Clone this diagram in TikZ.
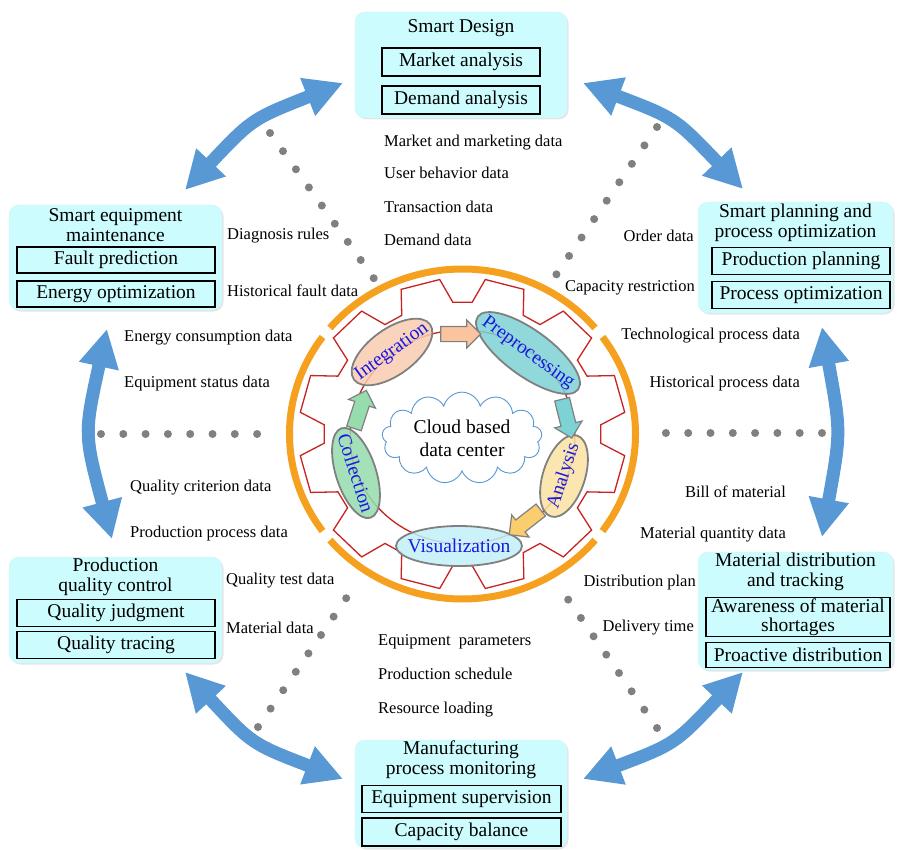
\documentclass[tikz,border=0pt]{standalone}
\usepackage{fontspec}
\setmainfont{Liberation Serif}
\usepackage{tikz}
\usetikzlibrary{arrows.meta, positioning, shapes.geometric, shapes.arrows, shapes.symbols, shadows}

\definecolor{modcyan}{RGB}{204,252,253}
\definecolor{gearred}{RGB}{200,35,35}
\definecolor{ringorange}{RGB}{245,160,30}
\definecolor{flowblue}{RGB}{88,152,212}
\definecolor{dotgray}{RGB}{128,128,128}
\definecolor{ovaltext}{RGB}{25,25,225}
\definecolor{integfill}{RGB}{248,204,176}
\definecolor{prepfill}{RGB}{125,210,212}
\definecolor{anafill}{RGB}{250,226,160}
\definecolor{visfill}{RGB}{195,240,248}
\definecolor{collfill}{RGB}{150,220,172}
\definecolor{anaarrow}{RGB}{250,205,110}

\newcommand{\ovl}[1]{\makebox[0pt]{#1}}

\tikzset{
  modbox/.style={fill=modcyan, draw=cyan!15, rounded corners=10pt,
    drop shadow={opacity=0.2, shadow xshift=1.5pt, shadow yshift=-1.5pt}},
  modtitle/.style={font=\fontsize{19.5}{20}\selectfont, align=center, inner sep=0pt},
  itembox/.style={draw=black, line width=1.4pt, fill=modcyan, inner sep=0pt,
    font=\fontsize{19.5}{19}\selectfont, align=center},
  datalabel/.style={font=\fontsize{16.5}{18}\selectfont, inner sep=0pt, text height=11pt, text depth=3pt},
  dotline/.style={dotgray, line width=8pt, line cap=round, dash pattern=on 0pt off 22.3pt},
  flowarrow/.style={flowblue, line width=13pt,
    {Triangle[length=38pt,width=38pt]}-{Triangle[length=38pt,width=38pt]}},
  ringline/.style={ringorange, line width=7pt},
  gearline/.style={gearred, line width=1.3pt, line join=miter},
  stepoval/.style={ellipse, draw=gray, line width=1.8pt, fill opacity=0.85, text opacity=1,
    text=ovaltext, font=\fontsize{19.5}{20}\selectfont, inner sep=0pt},
  steparrow/.style={single arrow, draw=gray, line width=1.2pt, minimum height=40pt,
    inner xsep=0pt, inner ysep=7pt, single arrow head extend=6.5pt}
}

\begin{document}
\begin{tikzpicture}[x=1pt, y=-1pt]
  \path[use as bounding box, fill=white] (0,0) rectangle (904,850);

  % Gear and ring
  \begin{scope}[shift={(462.5,434)}]
    \foreach \a/\b in {40/140, 144/216, 220/320, 324/396}
      \draw[ringline] (\a:173pt and 165pt) arc[start angle=\a, end angle=\b, x radius=173pt, y radius=165pt];
    \begin{scope}[xscale=1.05]
      \draw[gearline] (-4:132) \foreach \k in {0,...,11}{
        -- ({30*\k+4}:132) -- ({30*\k+8}:156) -- ({30*\k+22}:156) -- ({30*\k+26}:132)} -- cycle;
      \draw[gearred, line width=1.3pt] (0,3) circle[radius=107];
    \end{scope}
  \end{scope}

  % Cloud
  \node[cloud, cloud puffs=13, aspect=2, draw=flowblue, line width=0.9pt, fill=white,
    minimum width=160pt, minimum height=82pt, inner sep=0pt, align=center,
    font=\fontsize{19.5}{23}\selectfont] (cloud) at (462,438) {Cloud based\\data center};

  % Data processing cycle
  \node[stepoval, fill=integfill, minimum width=94pt, minimum height=46pt, rotate=36] (integ) at (392,352) {\ovl{Integration}};
  \node[stepoval, fill=prepfill, minimum width=124pt, minimum height=46pt, rotate=-36] (prep) at (528,353) {\ovl{Preprocessing}};
  \node[stepoval, fill=anafill, minimum width=85pt, minimum height=42pt, rotate=72] (ana) at (564,476) {\ovl{Analysis}};
  \node[stepoval, fill=visfill, minimum width=126pt, minimum height=40pt] (visu) at (459,546) {\ovl{Visualization}};
  \node[stepoval, fill=collfill, minimum width=94pt, minimum height=40pt, rotate=-72] (coll) at (356,473) {\ovl{Collection}};

  \node[steparrow, fill=integfill!90!orange] (a1) at (457,334) {};
  \node[steparrow, fill=prepfill, rotate=-76] (a2) at (566,415) {};
  \node[steparrow, fill=anaarrow, rotate=-142] (a3) at (528,520) {};
  \node[steparrow, fill=collfill, rotate=72] (a4) at (359,413) {};

  % Dotted links
  \coordinate (ulA) at (270,133);  \coordinate (ulB) at (375,280);
  \coordinate (urA) at (657,127);  \coordinate (urB) at (556,275);
  \coordinate (lA) at (101,434);   \coordinate (lB) at (262,434);
  \coordinate (rA) at (822,433);   \coordinate (rB) at (665,433);
  \coordinate (llA) at (258,727);  \coordinate (llB) at (358,581);
  \coordinate (lrA) at (657,728);  \coordinate (lrB) at (556,582);
  \foreach \p in {ul, ur, l, r, ll, lr}
    \draw[dotline] (\p A) -- (\p B);

  % Blue double arrows
  \coordinate (tlA) at (185,190);  \coordinate (tlB) at (343,83);
  \coordinate (trA) at (583,83);   \coordinate (trB) at (743,189);
  \coordinate (mlA) at (107,329);  \coordinate (mlB) at (112,539);
  \coordinate (mrA) at (822,327);  \coordinate (mrB) at (822,537);
  \coordinate (blA) at (185,672);  \coordinate (blB) at (343,779);
  \coordinate (brA) at (583,779);  \coordinate (brB) at (743,672);
  \draw[flowarrow] (tlA) .. controls (252,119) .. (tlB);
  \draw[flowarrow] (trA) .. controls (675,118) .. (trB);
  \draw[flowarrow] (mlA) .. controls (84,434) .. (mlB);
  \draw[flowarrow] (mrA) .. controls (841,432) .. (mrB);
  \draw[flowarrow] (blA) .. controls (252,744) .. (blB);
  \draw[flowarrow] (brA) .. controls (675,744) .. (brB);

  % Smart design
  \node[modbox, minimum width=212pt, minimum height=106pt] (design) at (461,65) {};
  \node[modtitle] (designT) at (461,28) {Smart Design};
  \node[itembox, minimum width=158pt, minimum height=28pt] (design1) at (461,62) {Market analysis};
  \node[itembox, minimum width=158pt, minimum height=28pt] (design2) at (461,100) {Demand analysis};

  % Smart equipment maintenance
  \node[modbox, minimum width=213pt, minimum height=105pt] (maint) at (115.5,257.5) {};
  \node[modtitle] (maintT) at (115.5,225) {Smart equipment\\maintenance};
  \node[itembox, minimum width=198pt, minimum height=26pt] (maint1) at (116,260) {Fault prediction};
  \node[itembox, minimum width=198pt, minimum height=26pt] (maint2) at (116,294) {Energy optimization};

  % Smart planning
  \node[modbox, minimum width=195pt, minimum height=111pt] (plan) at (795.5,257.5) {};
  \node[modtitle] (planT) at (795.5,223) {Smart planning and\\process optimization};
  \node[itembox, minimum width=178pt, minimum height=27pt] (plan1) at (801,261) {Production planning};
  \node[itembox, minimum width=178pt, minimum height=27pt] (plan2) at (801,295) {Process optimization};

  % Production quality control
  \node[modbox, minimum width=213pt, minimum height=106pt] (quality) at (115.5,610) {};
  \node[modtitle] (qualityT) at (115.5,577) {Production\\quality control};
  \node[itembox, minimum width=198pt, minimum height=27pt] (quality1) at (116,613) {Quality judgment};
  \node[itembox, minimum width=198pt, minimum height=27pt] (quality2) at (116,645) {Quality tracing};

  % Material distribution
  \node[modbox, minimum width=195pt, minimum height=118pt] (material) at (795.5,611) {};
  \node[modtitle] (materialT) at (795.5,572) {Material distribution\\and tracking};
  \node[itembox, minimum width=184pt, minimum height=39pt] (material1) at (798,617) {Awareness of material\\shortages};
  \node[itembox, minimum width=184pt, minimum height=25pt] (material2) at (798,655) {Proactive distribution};

  % Manufacturing process monitoring
  \node[modbox, minimum width=212pt, minimum height=108pt] (monitor) at (461,794) {};
  \node[modtitle] (monitorT) at (461,760) {Manufacturing\\process monitoring};
  \node[itembox, minimum width=199pt, minimum height=27pt] (monitor1) at (461.5,799) {Equipment supervision};
  \node[itembox, minimum width=199pt, minimum height=28pt] (monitor2) at (461.5,832) {Capacity balance};

  % Data labels
  \node[datalabel, anchor=west] (dMarket) at (384,143) {Market and marketing data};
  \node[datalabel, anchor=west] (dUser) at (384,175) {User behavior data};
  \node[datalabel, anchor=west] (dTrans) at (384,209) {Transaction data};
  \node[datalabel, anchor=west] (dDemand) at (384,242) {Demand data};
  \node[datalabel, anchor=west] (dDiag) at (227,236) {Diagnosis rules};
  \node[datalabel, anchor=west] (dFault) at (227,292) {Historical fault data};
  \node[datalabel, anchor=east] (dOrder) at (694,238) {Order data};
  \node[datalabel, anchor=east] (dCapacity) at (695,287) {Capacity restriction};
  \node[datalabel, anchor=west] (dEnergy) at (124,337) {Energy consumption data};
  \node[datalabel, anchor=west] (dStatus) at (124,383) {Equipment status data};
  \node[datalabel, anchor=west] (dCriterion) at (130,487) {Quality criterion data};
  \node[datalabel, anchor=west] (dProcess) at (130,533) {Production process data};
  \node[datalabel, anchor=east] (dTech) at (800,335) {Technological process data};
  \node[datalabel, anchor=east] (dHistProc) at (800,383) {Historical process data};
  \node[datalabel, anchor=east] (dBill) at (786,493) {Bill of material};
  \node[datalabel, anchor=east] (dQuantity) at (786,534) {Material quantity data};
  \node[datalabel, anchor=west] (dTest) at (226,580) {Quality test data};
  \node[datalabel, anchor=west] (dMaterial) at (226,629) {Material data};
  \node[datalabel, anchor=east] (dDistr) at (696,582) {Distribution plan};
  \node[datalabel, anchor=east] (dDelivery) at (694,627) {Delivery time};
  \node[datalabel, anchor=west] (dParam) at (378,641) {Equipment\ \ parameters};
  \node[datalabel, anchor=west] (dSchedule) at (378,675) {Production schedule};
  \node[datalabel, anchor=west] (dResource) at (378,709) {Resource loading};
\end{tikzpicture}
\end{document}
